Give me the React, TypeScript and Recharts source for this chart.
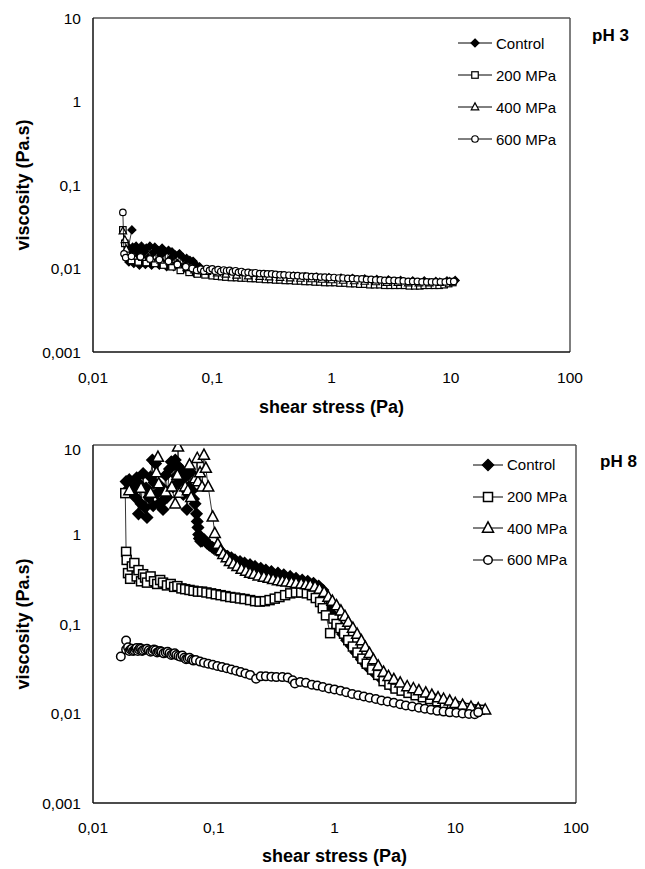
import {
  ScatterChart,
  Scatter,
  XAxis,
  YAxis,
  ReferenceLine,
  Legend,
  Label,
} from "recharts";

type Pt = [number, number];
type Kind = "diamond" | "square" | "triangle" | "circle";

const xTicks = [0.01, 0.1, 1, 10, 100];
const yTicks = [0.001, 0.01, 0.1, 1, 10];
const seriesNames = ["Control", "200 MPa", "400 MPa", "600 MPa"];
const seriesKinds: Kind[] = ["diamond", "square", "triangle", "circle"];

// pH 3 — shear stress (Pa), viscosity (Pa.s)
const ph3Control: Pt[] = [
  [0.0212, 0.029], [0.0198, 0.018], [0.02, 0.012], [0.0205, 0.016], [0.021, 0.0135],
  [0.0215, 0.018], [0.022, 0.0115], [0.0225, 0.0155], [0.023, 0.0185], [0.0235, 0.0125],
  [0.024, 0.0165], [0.0245, 0.011], [0.025, 0.0145], [0.0255, 0.0185], [0.026, 0.012],
  [0.027, 0.016], [0.0275, 0.0112], [0.028, 0.0175], [0.029, 0.0135], [0.03, 0.0185],
  [0.031, 0.011], [0.032, 0.0155], [0.033, 0.018], [0.034, 0.012], [0.035, 0.0165],
  [0.036, 0.011], [0.037, 0.0145], [0.038, 0.0175], [0.039, 0.0115], [0.04, 0.016],
  [0.0415, 0.0105], [0.043, 0.0165], [0.0445, 0.013], [0.046, 0.0158], [0.0475, 0.0105],
  [0.049, 0.0145], [0.051, 0.0115], [0.053, 0.015], [0.055, 0.0098], [0.057, 0.0135],
  [0.059, 0.0108], [0.061, 0.0132], [0.063, 0.0092], [0.065, 0.0125], [0.067, 0.0098],
  [0.069, 0.0122], [0.071, 0.0088], [0.073, 0.011], [0.075, 0.0092], [0.078, 0.0105],
  [0.081, 0.0095], [0.085, 0.0095], [0.1, 0.0093], [0.12, 0.009], [0.15, 0.0088],
  [0.19, 0.0086], [0.24, 0.0084], [0.3, 0.0083], [0.38, 0.0082], [0.48, 0.0081],
  [0.6, 0.008], [0.75, 0.0079], [0.95, 0.0078], [1.2, 0.0077], [1.5, 0.0076],
  [1.9, 0.0075], [2.4, 0.0074], [3, 0.0073], [3.8, 0.0072], [4.8, 0.0071],
  [6, 0.0071], [7.5, 0.007], [9.3, 0.0071], [10.9, 0.0072],
];

const ph3Mpa200: Pt[] = [
  [0.0178, 0.029], [0.0185, 0.02], [0.019, 0.015], [0.021, 0.0125], [0.024, 0.012],
  [0.028, 0.0118], [0.033, 0.0115], [0.039, 0.011], [0.046, 0.0105], [0.054, 0.0095],
  [0.064, 0.009], [0.075, 0.0086], [0.087, 0.0084], [0.1, 0.0082], [0.11, 0.0081],
  [0.12, 0.008], [0.13, 0.0079], [0.145, 0.0078], [0.16, 0.0078], [0.175, 0.0077],
  [0.19, 0.0077], [0.21, 0.0076], [0.23, 0.0076], [0.25, 0.0075], [0.28, 0.0074],
  [0.31, 0.0074], [0.34, 0.0073], [0.37, 0.0073], [0.41, 0.0072], [0.45, 0.0072],
  [0.5, 0.0071], [0.55, 0.0071], [0.6, 0.007], [0.66, 0.007], [0.73, 0.0069],
  [0.8, 0.0069], [0.88, 0.0068], [0.97, 0.0068], [1.07, 0.0068], [1.18, 0.0067],
  [1.3, 0.0067], [1.43, 0.0066], [1.57, 0.0066], [1.73, 0.0065], [1.9, 0.0065],
  [2.1, 0.0064], [2.3, 0.0064], [2.55, 0.0064], [2.8, 0.0063], [3.1, 0.0063],
  [3.4, 0.0063], [3.75, 0.0063], [4.1, 0.0063], [4.5, 0.0062], [5, 0.0062],
  [5.5, 0.0062], [6, 0.0063], [6.6, 0.0063], [7.3, 0.0063], [8, 0.0063],
  [8.8, 0.0064], [9.6, 0.0066], [10.4, 0.0068],
];

const ph3Mpa400: Pt[] = [
  [0.0178, 0.028], [0.0185, 0.022], [0.019, 0.017], [0.022, 0.014], [0.026, 0.0135],
  [0.031, 0.013], [0.037, 0.0125], [0.044, 0.012], [0.052, 0.011], [0.061, 0.0102],
  [0.071, 0.0096], [0.082, 0.0093], [0.09, 0.0092], [0.11, 0.0088], [0.13, 0.0085],
  [0.16, 0.0083], [0.2, 0.0081], [0.25, 0.008], [0.3, 0.0079], [0.37, 0.0078],
  [0.45, 0.0077], [0.55, 0.0076], [0.68, 0.0075], [0.83, 0.0074], [1, 0.0073],
  [1.25, 0.0072], [1.55, 0.0071], [1.9, 0.007], [2.35, 0.0069], [2.9, 0.0068],
  [3.6, 0.0068], [4.4, 0.0067], [5.4, 0.0067], [6.6, 0.0067], [8.1, 0.0068],
  [9.8, 0.0069],
];

const ph3Mpa600: Pt[] = [
  [0.0178, 0.047], [0.0182, 0.015], [0.0188, 0.0135], [0.021, 0.014], [0.025, 0.0138],
  [0.03, 0.013], [0.036, 0.0128], [0.043, 0.0122], [0.051, 0.0112], [0.06, 0.0105],
  [0.068, 0.01], [0.074, 0.0095], [0.08, 0.0098], [0.085, 0.0093], [0.09, 0.01],
  [0.095, 0.0095], [0.1, 0.0099], [0.106, 0.0093], [0.112, 0.0097], [0.118, 0.0092],
  [0.125, 0.0096], [0.132, 0.0094], [0.14, 0.0095], [0.148, 0.0091], [0.157, 0.0094],
  [0.166, 0.009], [0.176, 0.0092], [0.187, 0.0089], [0.2, 0.009], [0.215, 0.0088],
  [0.23, 0.0089], [0.25, 0.0087], [0.27, 0.0087], [0.29, 0.0086], [0.315, 0.0086],
  [0.34, 0.0085], [0.37, 0.0084], [0.4, 0.0084], [0.44, 0.0083], [0.48, 0.0082],
  [0.52, 0.0082], [0.57, 0.0081], [0.62, 0.0081], [0.68, 0.008], [0.74, 0.008],
  [0.81, 0.0079], [0.88, 0.0079], [0.96, 0.0078], [1.05, 0.0078], [1.15, 0.0077],
  [1.25, 0.0077], [1.37, 0.0076], [1.5, 0.0076], [1.64, 0.0075], [1.8, 0.0075],
  [1.97, 0.0074], [2.15, 0.0074], [2.35, 0.0073], [2.57, 0.0073], [2.8, 0.0072],
  [3.05, 0.0072], [3.35, 0.0072], [3.65, 0.0071], [4, 0.0071], [4.4, 0.007],
  [4.8, 0.007], [5.25, 0.007], [5.75, 0.0069], [6.3, 0.0069], [6.9, 0.0069],
  [7.5, 0.0069], [8.2, 0.0069], [9, 0.0069], [9.8, 0.007], [10.6, 0.007],
];

// pH 8
const ph8Control: Pt[] = [
  [0.0188, 3.9], [0.0195, 3.2], [0.02, 4.1], [0.021, 3.0], [0.022, 3.4],
  [0.0225, 2.6], [0.023, 4.3], [0.0238, 1.7], [0.0245, 3.6], [0.025, 2.2],
  [0.026, 4.8], [0.027, 2.0], [0.0275, 3.3], [0.028, 1.55], [0.029, 2.6],
  [0.03, 4.4], [0.031, 6.8], [0.0315, 2.1], [0.032, 3.8], [0.033, 6.2],
  [0.034, 2.9], [0.035, 2.2], [0.036, 3.5], [0.037, 2.3], [0.038, 1.9],
  [0.039, 3.0], [0.04, 4.6], [0.041, 2.6], [0.043, 5.4], [0.0445, 6.5],
  [0.046, 3.4], [0.048, 6.8], [0.049, 4.5], [0.05, 5.9], [0.052, 3.9],
  [0.054, 5.3], [0.056, 2.8], [0.058, 4.4], [0.06, 1.9], [0.062, 3.4],
  [0.064, 5.0], [0.066, 3.1], [0.068, 2.5], [0.07, 2.2], [0.072, 1.7],
  [0.073, 1.4], [0.074, 1.2], [0.075, 1.0], [0.076, 0.9], [0.078, 0.84],
  [0.08, 0.85], [0.084, 0.87], [0.088, 0.8], [0.092, 0.76], [0.097, 0.72],
  [0.1, 0.7], [0.106, 0.67], [0.112, 0.64], [0.12, 0.61], [0.13, 0.57],
  [0.14, 0.55], [0.15, 0.52], [0.165, 0.5], [0.18, 0.48], [0.2, 0.46],
  [0.22, 0.44], [0.245, 0.42], [0.27, 0.4], [0.3, 0.385], [0.34, 0.37],
  [0.38, 0.355], [0.43, 0.34], [0.48, 0.325], [0.54, 0.31], [0.6, 0.3],
  [0.67, 0.285], [0.74, 0.265], [0.8, 0.24], [0.86, 0.2], [0.92, 0.156],
  [0.98, 0.125], [1.04, 0.104], [1.1, 0.09], [1.17, 0.077], [1.26, 0.066],
  [1.37, 0.057], [1.5, 0.048], [1.67, 0.04], [1.85, 0.034], [2.1, 0.029],
  [2.4, 0.025], [2.7, 0.022], [3.0, 0.02], [3.4, 0.019], [3.9, 0.0178],
  [4.4, 0.0168], [5.0, 0.016], [5.8, 0.0153], [6.7, 0.0145], [7.8, 0.0137],
  [9, 0.0128], [10.5, 0.012], [12, 0.0115], [14, 0.0111], [16, 0.0108],
];

const ph8Mpa200: Pt[] = [
  [0.0185, 2.9], [0.0188, 0.64], [0.019, 0.52], [0.0195, 0.37], [0.0203, 0.32],
  [0.021, 0.44], [0.022, 0.48], [0.023, 0.34], [0.0238, 0.4], [0.025, 0.3],
  [0.026, 0.36], [0.027, 0.33], [0.028, 0.29], [0.03, 0.34], [0.032, 0.3],
  [0.034, 0.28], [0.036, 0.31], [0.038, 0.29], [0.041, 0.27], [0.044, 0.28],
  [0.047, 0.26], [0.05, 0.265], [0.054, 0.25], [0.058, 0.245], [0.063, 0.24],
  [0.068, 0.235], [0.074, 0.23], [0.08, 0.23], [0.087, 0.225], [0.095, 0.22],
  [0.104, 0.215], [0.114, 0.21], [0.125, 0.205], [0.137, 0.2], [0.15, 0.197],
  [0.165, 0.193], [0.18, 0.19], [0.2, 0.185], [0.22, 0.18], [0.24, 0.178],
  [0.265, 0.18], [0.29, 0.185], [0.32, 0.192], [0.35, 0.2], [0.39, 0.21],
  [0.43, 0.22], [0.48, 0.225], [0.53, 0.225], [0.59, 0.22], [0.65, 0.21],
  [0.7, 0.195], [0.76, 0.176], [0.8, 0.15], [0.85, 0.125], [0.92, 0.079],
  [0.98, 0.115], [1.04, 0.1], [1.12, 0.09], [1.2, 0.078], [1.3, 0.066],
  [1.42, 0.056], [1.55, 0.048], [1.7, 0.041], [1.85, 0.036], [2.05, 0.031],
  [2.3, 0.027], [2.55, 0.023], [2.85, 0.021], [3.2, 0.019], [3.6, 0.018],
  [4.1, 0.017], [4.7, 0.016], [5.4, 0.0152], [6.2, 0.0145], [7.1, 0.0137],
  [8.2, 0.013], [9.4, 0.0125], [10.8, 0.012], [12.4, 0.0115], [14.2, 0.0111],
  [16, 0.011],
];

const ph8Mpa400: Pt[] = [
  [0.02, 3.1], [0.025, 3.3], [0.03, 2.9], [0.0335, 4.9], [0.0345, 7.3],
  [0.035, 3.7], [0.04, 3.0], [0.045, 3.4], [0.048, 2.2], [0.05, 4.6],
  [0.0506, 9.5], [0.052, 2.9], [0.058, 3.4], [0.061, 3.1], [0.063, 6.0],
  [0.065, 2.6], [0.07, 4.2], [0.073, 7.1], [0.074, 3.9], [0.077, 4.9],
  [0.08, 3.4], [0.083, 7.7], [0.086, 5.5], [0.09, 3.4], [0.098, 1.57],
  [0.102, 1.03], [0.108, 0.78], [0.114, 0.66], [0.12, 0.6], [0.128, 0.55],
  [0.136, 0.5], [0.146, 0.47], [0.157, 0.44], [0.17, 0.41], [0.185, 0.39],
  [0.2, 0.37], [0.216, 0.36], [0.235, 0.345], [0.26, 0.335], [0.285, 0.325],
  [0.31, 0.315], [0.34, 0.305], [0.37, 0.3], [0.4, 0.295], [0.44, 0.29],
  [0.48, 0.285], [0.53, 0.28], [0.58, 0.275], [0.63, 0.27], [0.69, 0.26],
  [0.75, 0.245], [0.82, 0.225], [0.89, 0.2], [0.96, 0.18], [1.04, 0.16],
  [1.13, 0.14], [1.22, 0.122], [1.3, 0.105], [1.42, 0.09], [1.54, 0.077],
  [1.67, 0.065], [1.8, 0.055], [1.95, 0.047], [2.1, 0.04], [2.3, 0.034],
  [2.55, 0.029], [2.8, 0.026], [3.1, 0.024], [3.5, 0.022], [4, 0.02],
  [4.5, 0.019], [5, 0.018], [5.7, 0.017], [6.4, 0.016], [7.2, 0.015],
  [8, 0.0145], [9, 0.0138], [10, 0.013], [11.5, 0.0124], [13.5, 0.0118],
  [15.5, 0.0113], [17.7, 0.011],
];

const ph8Mpa600: Pt[] = [
  [0.017, 0.0434], [0.0188, 0.0655], [0.0188, 0.052], [0.0195, 0.055], [0.02, 0.05],
  [0.0205, 0.052], [0.021, 0.053], [0.0215, 0.05], [0.022, 0.051], [0.0225, 0.053],
  [0.023, 0.054], [0.0235, 0.05], [0.024, 0.052], [0.0245, 0.054], [0.025, 0.053],
  [0.0255, 0.05], [0.026, 0.051], [0.027, 0.052], [0.028, 0.053], [0.029, 0.051],
  [0.03, 0.049], [0.031, 0.05], [0.032, 0.052], [0.033, 0.051], [0.034, 0.048],
  [0.035, 0.049], [0.036, 0.05], [0.037, 0.049], [0.0385, 0.047], [0.04, 0.048],
  [0.0415, 0.049], [0.043, 0.047], [0.0445, 0.045], [0.046, 0.046], [0.0475, 0.047],
  [0.049, 0.045], [0.051, 0.044], [0.053, 0.043], [0.055, 0.0445], [0.057, 0.042],
  [0.059, 0.0405], [0.061, 0.041], [0.063, 0.042], [0.066, 0.04], [0.068, 0.039],
  [0.071, 0.0395], [0.077, 0.038], [0.083, 0.037], [0.09, 0.036], [0.098, 0.035],
  [0.107, 0.034], [0.117, 0.033], [0.128, 0.032], [0.14, 0.031], [0.153, 0.03],
  [0.167, 0.029], [0.183, 0.028], [0.2, 0.027], [0.224, 0.0245], [0.245, 0.026],
  [0.27, 0.026], [0.3, 0.0258], [0.33, 0.0255], [0.37, 0.0255], [0.41, 0.0253],
  [0.45, 0.0235], [0.47, 0.0217], [0.52, 0.0225], [0.58, 0.022], [0.65, 0.021],
  [0.72, 0.0205], [0.8, 0.0198], [0.9, 0.019], [1.0, 0.0186], [1.12, 0.018],
  [1.25, 0.0173], [1.4, 0.0165], [1.57, 0.016], [1.75, 0.0155], [1.95, 0.015],
  [2.2, 0.0145], [2.45, 0.014], [2.75, 0.0136], [3.1, 0.0132], [3.5, 0.0127],
  [3.9, 0.0123], [4.4, 0.012], [5, 0.0116], [5.6, 0.0113], [6.3, 0.011],
  [7.1, 0.0107], [8, 0.0105], [9, 0.0103], [10.2, 0.0102], [11.5, 0.01],
  [13, 0.0099], [14.5, 0.0098], [15.5, 0.0103],
];

const FONT = '"Liberation Sans", Arial, Helvetica, sans-serif';
const fmt = (v: number) => String(v).replace(".", ",");
const toPts = (arr: Pt[]) => arr.map(([x, y]) => ({ x, y }));

const Mark = ({ kind, cx, cy, s, sw }: { kind: Kind; cx: number; cy: number; s: number; sw: number }) => {
  if (cx == null || cy == null || isNaN(cx) || isNaN(cy)) return null;
  const h = s / 2;
  if (kind === "diamond")
    return (
      <polygon
        points={`${cx},${cy - h} ${cx + h},${cy} ${cx},${cy + h} ${cx - h},${cy}`}
        fill="#000"
        stroke="#000"
        strokeWidth={sw}
      />
    );
  if (kind === "square")
    return <rect x={cx - h} y={cy - h} width={s} height={s} fill="#fff" stroke="#000" strokeWidth={sw} />;
  if (kind === "triangle")
    return (
      <polygon
        points={`${cx},${cy - h * 1.1} ${cx + h},${cy + h * 0.75} ${cx - h},${cy + h * 0.75}`}
        fill="#fff"
        stroke="#000"
        strokeWidth={sw}
      />
    );
  return <circle cx={cx} cy={cy} r={h} fill="#fff" stroke="#000" strokeWidth={sw} />;
};

const LegendBox = ({ sizes, sw, rowH, lineW }: { sizes: number[]; sw: number; rowH: number; lineW: number }) => (
  <div style={{ fontFamily: FONT, fontSize: 15, color: "#000" }}>
    {seriesNames.map((name, i) => (
      <div key={name} style={{ display: "flex", alignItems: "center", height: rowH }}>
        <svg width={lineW} height={16} style={{ marginRight: 4 }}>
          <line x1={0} y1={8} x2={lineW} y2={8} stroke="#000" strokeWidth={1} />
          <Mark kind={seriesKinds[i]} cx={lineW / 2} cy={8} s={sizes[i]} sw={sw} />
        </svg>
        <span>{name}</span>
      </div>
    ))}
  </div>
);

interface PanelProps {
  top: number;
  height: number;
  margin: { top: number; right: number; bottom: number; left: number };
  series: Pt[][];
  sizes: number[];
  sw: number;
  ph: string;
  phPos: { left: number; top: number };
  legendPos: { left: number; top: number };
  rowH: number;
  lineW: number;
  tickGap: number;
  titleOffset: number;
}

const Panel = (p: PanelProps) => (
  <div style={{ position: "absolute", left: 0, top: p.top, width: 645, height: p.height }}>
    <ScatterChart width={645} height={p.height} margin={p.margin}>
      <XAxis
        type="number"
        dataKey="x"
        scale="log"
        domain={[0.01, 100]}
        ticks={xTicks}
        allowDataOverflow
        tickFormatter={fmt}
        tickLine={false}
        tickSize={0}
        tickMargin={p.tickGap}
        height={30}
        axisLine={{ stroke: "#111", strokeWidth: 1.5 }}
        tick={{ fill: "#000", fontSize: 15.5 }}
      >
        <Label
          value="shear stress (Pa)"
          position="bottom"
          offset={p.titleOffset}
          style={{ fontWeight: 700, fontSize: 18, fill: "#000" }}
        />
      </XAxis>
      <YAxis
        type="number"
        dataKey="y"
        scale="log"
        domain={[0.001, 10]}
        ticks={yTicks}
        allowDataOverflow
        tickFormatter={fmt}
        tickLine={false}
        tickSize={0}
        tickMargin={12}
        width={93}
        axisLine={{ stroke: "#111", strokeWidth: 1.5 }}
        tick={{ fill: "#000", fontSize: 15.5 }}
      >
        <Label
          content={(lp: any) => {
            const vb = lp.viewBox || { y: 0, height: p.height };
            const cy = vb.y + vb.height / 2;
            return (
              <text
                x={23}
                y={cy}
                transform={`rotate(-90 23 ${cy})`}
                textAnchor="middle"
                dominantBaseline="central"
                style={{ fontWeight: 700, fontSize: 18, fill: "#000" }}
              >
                viscosity (Pa.s)
              </text>
            );
          }}
        />
      </YAxis>
      <ReferenceLine y={10} stroke="#555" strokeWidth={1.5} />
      <ReferenceLine x={100} stroke="#555" strokeWidth={1.5} />
      <Legend
        layout="vertical"
        align="center"
        verticalAlign="middle"
        wrapperStyle={{ left: p.legendPos.left, top: p.legendPos.top, width: 130 }}
        content={() => <LegendBox sizes={p.sizes} sw={p.sw} rowH={p.rowH} lineW={p.lineW} />}
      />
      {p.series.map((s, i) => (
        <Scatter
          key={seriesNames[i]}
          name={seriesNames[i]}
          data={toPts(s)}
          line={{ stroke: "#000", strokeWidth: 0.8 }}
          lineType="joint"
          isAnimationActive={false}
          shape={(sp: any) => <Mark kind={seriesKinds[i]} cx={sp.cx} cy={sp.cy} s={p.sizes[i]} sw={p.sw} />}
        />
      ))}
    </ScatterChart>
    <div
      style={{
        position: "absolute",
        left: p.phPos.left,
        top: p.phPos.top,
        fontFamily: FONT,
        fontWeight: 700,
        fontSize: 17,
        color: "#000",
      }}
    >
      {p.ph}
    </div>
  </div>
);

export default function App() {
  return (
    <div
      style={{
        position: "absolute",
        left: 0,
        top: 0,
        width: 645,
        height: 869,
        background: "#fff",
        fontFamily: FONT,
      }}
    >
      <Panel
        top={0}
        height={440}
        margin={{ top: 18, right: 75, bottom: 58, left: 0 }}
        series={[ph3Control, ph3Mpa200, ph3Mpa400, ph3Mpa600]}
        sizes={[8, 6.5, 7.5, 6.5]}
        sw={1.2}
        ph="pH 3"
        phPos={{ left: 592, top: 26 }}
        legendPos={{ left: 458, top: 27 }}
        rowH={32}
        lineW={34}
        tickGap={20}
        titleOffset={18}
      />
      <Panel
        top={440}
        height={429}
        margin={{ top: 5, right: 69, bottom: 36, left: 0 }}
        series={[ph8Control, ph8Mpa200, ph8Mpa400, ph8Mpa600]}
        sizes={[11, 9, 11, 8.5]}
        sw={1.5}
        ph="pH 8"
        phPos={{ left: 600, top: 12 }}
        legendPos={{ left: 473, top: 9 }}
        rowH={31.7}
        lineW={30}
        tickGap={19}
        titleOffset={16}
      />
    </div>
  );
}
